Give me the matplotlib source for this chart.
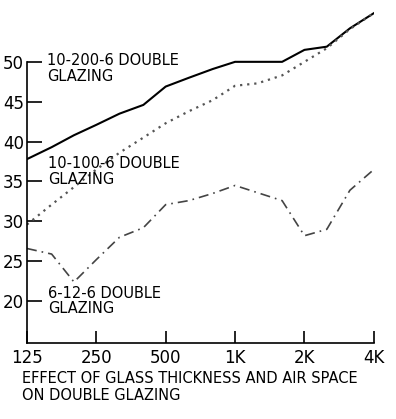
import matplotlib
matplotlib.use("Agg")
import matplotlib.pyplot as plt
from matplotlib.ticker import FixedLocator, NullLocator

# third-octave band centre frequencies (Hz)
freqs = [125, 160, 200, 250, 315, 400, 500, 630, 800, 1000,
         1250, 1600, 2000, 2500, 3150, 4000]

# sound reduction (dB)
db_10_200_6 = [37.8, 39.3, 40.8, 42.1, 43.5, 44.6, 46.9, 48.0, 49.1, 50.0,
               50.0, 50.0, 51.5, 51.9, 54.2, 56.1]
db_10_100_6 = [29.6, 32.1, 34.3, 36.5, 38.6, 40.5, 42.3, 43.8, 45.2, 47.0,
               47.3, 48.3, 50.0, 51.7, 54.1, 56.1]
db_6_12_6 = [26.6, 25.9, 22.4, 25.2, 28.0, 29.2, 32.1, 32.6, 33.5, 34.5,
             33.6, 32.6, 28.2, 29.0, 33.9, 36.5]

xtick_vals = [125, 250, 500, 1000, 2000, 4000]
xtick_labels = ["125", "250", "500", "1K", "2K", "4K"]
ytick_vals = [20, 25, 30, 35, 40, 45, 50]

fig = plt.figure(figsize=(3.96, 4.19), dpi=100)
ax = fig.add_axes([0.068, 0.1814, 0.876, 0.8138])

ax.plot(freqs, db_10_200_6, color="black", lw=1.5)
ax.plot(freqs, db_10_100_6, color="#555555", lw=1.6, linestyle=(0, (1, 2.2)))
ax.plot(freqs, db_6_12_6, color="#444444", lw=1.2, linestyle=(0, (6, 3, 1, 3)))

ax.set_xscale("log", base=2)
ax.set_xlim(125, 4000)
ax.set_ylim(14.75, 57.5)

ax.xaxis.set_major_locator(FixedLocator(xtick_vals))
ax.xaxis.set_minor_locator(NullLocator())
ax.set_xticklabels(xtick_labels, fontsize=12)
ax.set_yticks(ytick_vals)
ax.set_yticklabels([str(v) for v in ytick_vals], fontsize=12)
ax.tick_params(axis="x", direction="in", length=9, width=1.2, pad=4)
ax.tick_params(axis="y", direction="in", length=11, width=1.2, pad=2)

for s in ("top", "right"):
    ax.spines[s].set_visible(False)
ax.spines["left"].set_bounds(14.75, 50)
ax.spines["left"].set_linewidth(1.2)
ax.spines["bottom"].set_linewidth(1.2)
ax.patch.set_alpha(0)

ax.text(0.058, 0.85, "10-200-6 DOUBLE\nGLAZING", transform=ax.transAxes,
        fontsize=10.5, va="top", ha="left", linespacing=1.05)
ax.text(0.06, 0.548, "10-100-6 DOUBLE\nGLAZING", transform=ax.transAxes,
        fontsize=10.5, va="top", ha="left", linespacing=1.05)
ax.text(0.06, 0.168, "6-12-6 DOUBLE\nGLAZING", transform=ax.transAxes,
        fontsize=10.5, va="top", ha="left", linespacing=1.05)

fig.text(0.055, 0.115, "EFFECT OF GLASS THICKNESS AND AIR SPACE\nON DOUBLE GLAZING",
         fontsize=10.5, va="top", ha="left", linespacing=1.15)

fig.savefig("out.png", dpi=100)
